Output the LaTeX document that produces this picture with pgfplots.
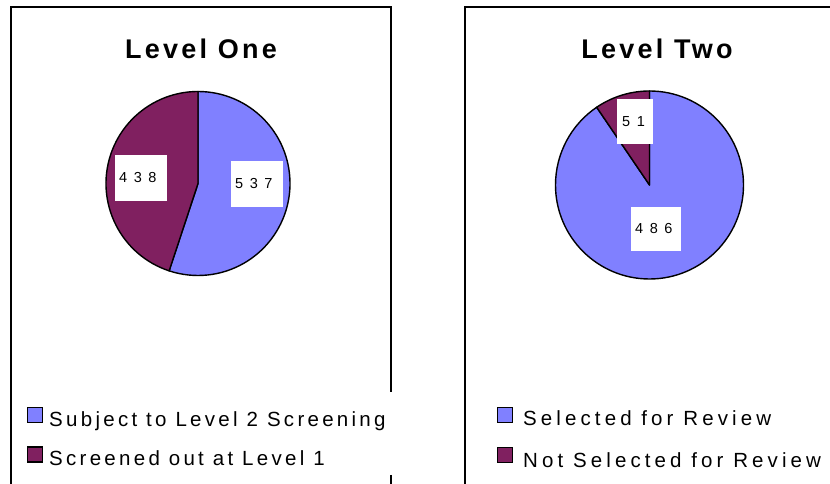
\documentclass[border=0pt]{standalone}
\usepackage{pgfplots}
\pgfplotsset{compat=1.18}
\usepackage{pgfplotstable}
\usepackage{fontspec}
\setmainfont{Liberation Sans}
\newfontfamily\titlefont[LetterSpace=12]{Liberation Sans}
\newfontfamily\legA[LetterSpace=16]{Liberation Sans}
\newfontfamily\legB[LetterSpace=20]{Liberation Sans}
\newfontfamily\lblfont[LetterSpace=45]{Liberation Sans}
\definecolor{pblue}{RGB}{128,128,255}
\definecolor{pmaroon}{RGB}{128,32,96}

\pgfplotstableread{
value
537
438
}\levelone
\pgfplotstableread{
value
486
51
}\leveltwo

\pgfplotstablegetelem{0}{value}\of\levelone \edef\Aa{\pgfplotsretval}
\pgfplotstablegetelem{1}{value}\of\levelone \edef\Ab{\pgfplotsretval}
\pgfplotstablegetelem{0}{value}\of\leveltwo \edef\Ba{\pgfplotsretval}
\pgfplotstablegetelem{1}{value}\of\leveltwo \edef\Bb{\pgfplotsretval}
\pgfmathsetmacro\Afrac{\Aa/(\Aa+\Ab)}
\pgfmathsetmacro\Aend{90-360*\Afrac}
\pgfmathsetmacro\Bfrac{\Ba/(\Ba+\Bb)}
\pgfmathsetmacro\Bend{90-360*\Bfrac}

\newcommand\titlesize{\fontsize{27}{31}\selectfont}
\newcommand\legsize{\fontsize{20.5}{24}\selectfont}
\newcommand\lblsize{\fontsize{14.5}{16}\selectfont}

\begin{document}
\begin{tikzpicture}
\pgfplotsset{panel/.style={hide axis, clip=false, x=1pt, y=1pt, ymin=0, ymax=484, anchor=south west}}
% ---------------- Level One ----------------
\begin{axis}[panel, at={(0pt,0pt)}, xmin=0, xmax=415]
  \draw[line width=2pt] (axis cs:11,0) -- (axis cs:11,477) -- (axis cs:391,477) -- (axis cs:391,92);
  \draw[line width=2pt] (axis cs:391,9) -- (axis cs:391,0);
  \node[anchor=base, inner sep=0pt, font=\titlefont\bfseries\titlesize] at (axis cs:201,425.5) {Level One};
  \filldraw[fill=pblue, draw=black, line width=1.4pt, line join=round]
    (axis cs:198,300.5) -- ++(90:92pt) arc[start angle=90, end angle=\Aend, radius=92pt] -- cycle;
  \filldraw[fill=pmaroon, draw=black, line width=1.4pt, line join=round]
    (axis cs:198,300.5) -- ++(\Aend:92pt) arc[start angle=\Aend, end angle=-270, radius=92pt] -- cycle;
  \fill[white] (axis cs:231,277) rectangle (axis cs:283,323);
  \node[anchor=west, inner sep=0pt, font=\lblfont\lblsize] at (axis cs:235,300) {\Aa};
  \fill[white] (axis cs:115,283) rectangle (axis cs:167,329);
  \node[anchor=west, inner sep=0pt, font=\lblfont\lblsize] at (axis cs:119,306) {\Ab};
  \filldraw[fill=pblue, draw=black, line width=1.5pt] (axis cs:27.5,61.5) rectangle (axis cs:42.5,76.5);
  \node[anchor=base west, inner sep=0pt, font=\legA\legsize] at (axis cs:49,57.5) {Subject to Level 2 Screening};
  \filldraw[fill=pmaroon, draw=black, line width=1.5pt] (axis cs:27.5,22) rectangle (axis cs:42.5,37);
  \node[anchor=base west, inner sep=0pt, font=\legA\legsize] at (axis cs:49,18) {Screened out at Level 1};
\end{axis}
% ---------------- Level Two ----------------
\begin{axis}[panel, at={(415pt,0pt)}, xmin=415, xmax=830]
  \draw[line width=2pt] (axis cs:465,0) -- (axis cs:465,477) -- (axis cs:832,477);
  \node[anchor=base, inner sep=0pt, font=\titlefont\bfseries\titlesize] at (axis cs:657,425.5) {Level Two};
  \filldraw[fill=pblue, draw=black, line width=1.4pt, line join=round]
    (axis cs:649.5,299) -- ++(90:94pt) arc[start angle=90, end angle=\Bend, radius=94pt] -- cycle;
  \filldraw[fill=pmaroon, draw=black, line width=1.4pt, line join=round]
    (axis cs:649.5,299) -- ++(\Bend:94pt) arc[start angle=\Bend, end angle=-270, radius=94pt] -- cycle;
  \fill[white] (axis cs:617,340) rectangle (axis cs:653,385);
  \node[anchor=west, inner sep=0pt, font=\lblfont\lblsize] at (axis cs:622,362.5) {\Bb};
  \fill[white] (axis cs:631,233) rectangle (axis cs:681,277);
  \node[anchor=west, inner sep=0pt, font=\lblfont\lblsize] at (axis cs:635,255) {\Ba};
  \filldraw[fill=pblue, draw=black, line width=1.5pt] (axis cs:497.5,61.5) rectangle (axis cs:512.5,76.5);
  \node[anchor=base west, inner sep=0pt, font=\legB\legsize] at (axis cs:523,58) {Selected for Review};
  \filldraw[fill=pmaroon, draw=black, line width=1.5pt] (axis cs:497.5,21.5) rectangle (axis cs:512.5,36.5);
  \node[anchor=base west, inner sep=0pt, font=\legB\legsize] at (axis cs:523,16) {Not Selected for Review};
\end{axis}
\pgfresetboundingbox
\path[use as bounding box] (0pt,0pt) rectangle (830pt,484pt);
\end{tikzpicture}
\end{document}
